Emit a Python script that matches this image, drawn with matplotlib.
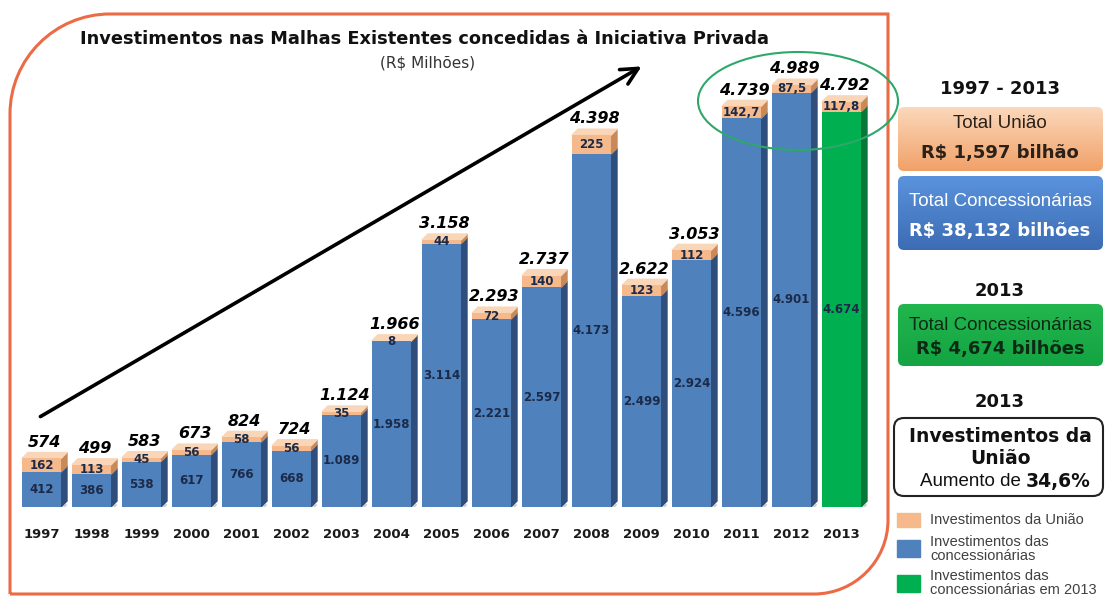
import matplotlib
matplotlib.use("Agg")
import matplotlib.pyplot as plt
import numpy as np
from matplotlib.patches import Polygon, FancyBboxPatch, Rectangle, Ellipse, PathPatch
from matplotlib.path import Path

# data (R$ milhões)
years = ['1997', '1998', '1999', '2000', '2001', '2002', '2003', '2004', '2005',
         '2006', '2007', '2008', '2009', '2010', '2011', '2012', '2013']
concessionarias = [412, 386, 538, 617, 766, 668, 1089, 1958, 3114,
                   2221, 2597, 4173, 2499, 2924, 4596, 4901, 4674]
uniao = [162, 113, 45, 56, 58, 56, 35, 8, 44,
         72, 140, 225, 123, 112, 142.7, 87.5, 117.8]
totais = [574, 499, 583, 673, 824, 724, 1124, 1966, 3158,
          2293, 2737, 4398, 2622, 3053, 4739, 4989, 4792]
destaque = '2013'

BLUE, BLUE_SIDE = '#4F81BD', '#2F4E7C'
GREEN, GREEN_SIDE = '#00B050', '#07783A'
ORANGE, ORANGE_SIDE, ORANGE_TOP = '#F6B98B', '#C98A5A', '#FAD6B8'
LABEL = '#1B2A48'
FRAME = '#EC6B44'


def fmt(v):
    if v == int(v):
        return f"{int(v):,}".replace(',', '.')
    return f"{v:.1f}".replace('.', ',')


fig = plt.figure(figsize=(11.05, 5.97), dpi=100)
W, H = 1105, 597

# ---- bar chart ----
ax = fig.add_axes([19.5 / W, 90 / H, 850 / W, 465 / H], zorder=1)
ax.set_xlim(-0.5, 16.5)
ax.set_ylim(0, 5500)
ax.axis('off')

x = np.arange(len(years))
fw = 0.78            # front face width
dx = 0.12            # depth, x
dy = 6 * 5500 / 465  # depth, y (6 px)
cx = x - 0.06        # centre of the front face

front_cols = [GREEN if y == destaque else BLUE for y in years]
side_cols = [GREEN_SIDE if y == destaque else BLUE_SIDE for y in years]

ax.bar(cx, concessionarias, width=fw, color=front_cols, zorder=3)
ax.bar(cx, uniao, width=fw, bottom=concessionarias, color=ORANGE, zorder=3)

for i in range(len(years)):
    l, r = cx[i] - fw / 2, cx[i] + fw / 2
    c, u = concessionarias[i], uniao[i]
    top = c + u
    # side faces
    ax.add_patch(Polygon([(r, 0), (r + dx, dy), (r + dx, c + dy), (r, c)],
                         closed=True, color=side_cols[i], zorder=2))
    ax.add_patch(Polygon([(r, c), (r + dx, c + dy), (r + dx, top + dy), (r, top)],
                         closed=True, color=ORANGE_SIDE, zorder=2))
    # top face
    ax.add_patch(Polygon([(l, top), (r, top), (r + dx, top + dy), (l + dx, top + dy)],
                         closed=True, color=ORANGE_TOP, zorder=2))
    # labels
    ax.text(cx[i], c / 2, fmt(c), ha='center', va='center', fontsize=8.5,
            fontweight='bold', color=LABEL, zorder=5)
    ax.text(cx[i], c + u / 2, fmt(u), ha='center', va='center', fontsize=8.5,
            fontweight='bold', color=LABEL, zorder=5)
    ax.annotate(fmt(totais[i]), (cx[i] + dx / 2, top + dy), xytext=(0, 2),
                textcoords='offset points', ha='center', va='bottom',
                fontsize=11.5, fontweight='bold', fontstyle='italic', color='black', zorder=5)
    ax.text(cx[i], -320, years[i], ha='center', va='center', fontsize=9.5,
            fontweight='bold', color='#1a1a1a', clip_on=False)

# small floor marks
for xb in cx + fw / 2 + dx / 2:
    ax.plot([xb - 0.04, xb + 0.04], [-25, 25], color='#c8c8c8', lw=1.2, zorder=1)

# ---- overlay in pixel coordinates ----
ov = fig.add_axes([0, 0, 1, 1], zorder=2)
ov.set_xlim(0, W)
ov.set_ylim(H, 0)
ov.axis('off')

# orange frame with rounded top-left / bottom-right corners
k = 0.552
r1, r2 = 100, 74
xl, xr, yt, yb = 10, 888, 14, 594
verts = [(xl, yb), (xl, yt + r1),
         (xl, yt + r1 - k * r1), (xl + r1 - k * r1, yt), (xl + r1, yt),
         (xr, yt), (xr, yb - r2),
         (xr, yb - r2 + k * r2), (xr - r2 + k * r2, yb), (xr - r2, yb),
         (xl, yb)]
codes = [Path.MOVETO, Path.LINETO,
         Path.CURVE4, Path.CURVE4, Path.CURVE4,
         Path.LINETO, Path.LINETO,
         Path.CURVE4, Path.CURVE4, Path.CURVE4,
         Path.LINETO]
ov.add_patch(PathPatch(Path(verts, codes), facecolor='none', edgecolor=FRAME, lw=2.2))

ov.text(425, 39, 'Investimentos nas Malhas Existentes concedidas à Iniciativa Privada',
        ha='center', va='center', fontsize=12.8, fontweight='bold', color='#111111')
ov.text(428, 63, '(R$ Milhões)', ha='center', va='center', fontsize=11, color='#333333')

ov.annotate('', xy=(644, 65), xytext=(38, 418),
            arrowprops=dict(arrowstyle='->,head_length=1.2,head_width=0.6',
                            lw=2.6, color='black'))

ov.add_patch(Ellipse((798, 101), 200, 98, facecolor='none', edgecolor='#2EA86A', lw=1.5))


# ---- right panel ----
def grad_box(x0, y0, w, h, c_top, c_bot, rounding=6):
    box = FancyBboxPatch((x0, y0), w, h, boxstyle=f'round,pad=0,rounding_size={rounding}',
                         facecolor='none', edgecolor='none')
    ov.add_patch(box)
    c1 = np.array(matplotlib.colors.to_rgb(c_top))
    c2 = np.array(matplotlib.colors.to_rgb(c_bot))
    t = np.linspace(0, 1, 64)[:, None, None]
    img = c1 * (1 - t) + c2 * t
    img = np.repeat(img, 2, axis=1)
    im = ov.imshow(img, extent=(x0, x0 + w, y0 + h, y0), aspect='auto', zorder=1)
    im.set_clip_path(box)


cxp = 1000
ov.text(cxp, 89, '1997 - 2013', ha='center', va='center', fontsize=13, fontweight='bold', color='#111111')
grad_box(898, 107, 205, 64, '#FBD8BB', '#F1A168')
ov.text(cxp, 124, 'Total União', ha='center', va='center', fontsize=13.5,
        family='Liberation Sans', color='#2b2118', zorder=3)
ov.text(cxp, 153, 'R$ 1,597 bilhão', ha='center', va='center', fontsize=13,
        fontweight='bold', color='#2b2118', zorder=3)

grad_box(898, 176, 205, 74, '#5A93DC', '#3C6CB4')
ov.text(cxp, 202, 'Total Concessionárias', ha='center', va='center', fontsize=13.5,
        family='Liberation Sans', color='white', zorder=3)
ov.text(cxp, 231, 'R$ 38,132 bilhões', ha='center', va='center', fontsize=13,
        fontweight='bold', color='white', zorder=3)

ov.text(cxp, 291, '2013', ha='center', va='center', fontsize=13, fontweight='bold', color='#111111')
grad_box(898, 304, 205, 62, '#22B64E', '#14A443')
ov.text(cxp, 325, 'Total Concessionárias', ha='center', va='center', fontsize=13.5,
        family='Liberation Sans', color='#0d2a14', zorder=3)
ov.text(cxp, 349, 'R$ 4,674 bilhões', ha='center', va='center', fontsize=13,
        fontweight='bold', color='#0d2a14', zorder=3)

ov.text(cxp, 402, '2013', ha='center', va='center', fontsize=13, fontweight='bold', color='#111111')
ov.add_patch(FancyBboxPatch((894, 418), 209, 78, boxstyle='round,pad=0,rounding_size=10',
                            facecolor='white', edgecolor='#222222', lw=1.5))
ov.text(cxp, 437, 'Investimentos da', ha='center', va='center', fontsize=13.5,
        fontweight='bold', color='#111111')
ov.text(cxp, 459, 'União', ha='center', va='center', fontsize=13.5,
        fontweight='bold', color='#111111')
ov.text(1026, 481, 'Aumento de ', ha='right', va='center', fontsize=13.5,
        family='Liberation Sans', color='#111111')
ov.text(1026, 481, '34,6%', ha='left', va='center', fontsize=13.5,
        fontweight='bold', color='#111111')

# legend
leg_items = [('Investimentos da União', ORANGE, 513, 14),
             ('Investimentos das\nconcessionárias', BLUE, 540, 17),
             ('Investimentos das\nconcessionárias em 2013', GREEN, 575, 17)]
for txt, col, y0, h in leg_items:
    ov.add_patch(Rectangle((897, y0), 23, h, color=col))
    ov.text(930, y0 + h / 2, txt, ha='left', va='center', fontsize=10.5,
            family='Liberation Sans', color='#404040', linespacing=1.0)

fig.savefig('out.png', dpi=100)
